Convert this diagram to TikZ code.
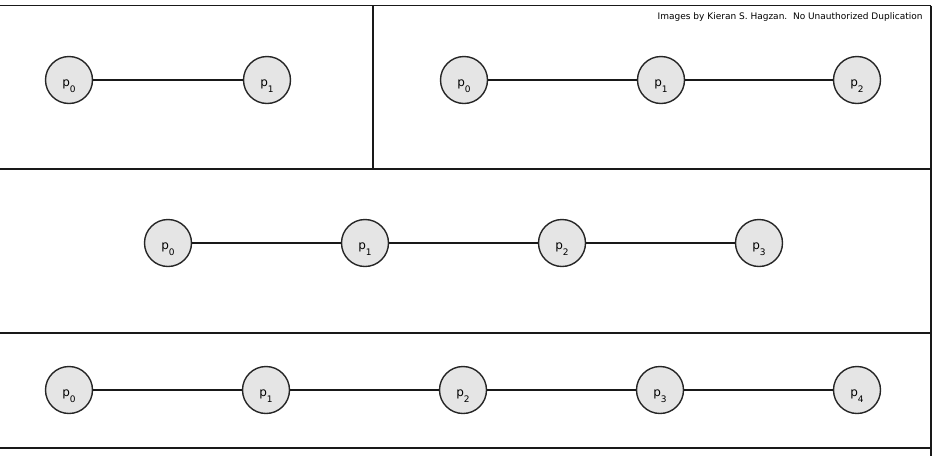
\documentclass[tikz,border=0pt]{standalone}
\usepackage{fontspec}
\setmainfont{DejaVu Sans}
\usetikzlibrary{positioning}
\tikzset{
  punkt/.style={circle, draw=black!85, line width=1.4pt, fill=black!10, inner sep=0pt, minimum size=47pt, font=\fontsize{12}{14}\selectfont},
  kant/.style={line width=1.3pt, black!90},
  rahmen/.style={line width=1.8pt, black!90},
}
\newcommand{\pkt}[1]{\raisebox{-6pt}[0pt][0pt]{p\raisebox{-6pt}{\fontsize{9}{9}\selectfont #1}}}
\begin{document}
\begin{tikzpicture}[x=1pt, y=-1pt]
  \useasboundingbox (0,0) rectangle (932,456);
  % Rahmen
  \draw[rahmen] (0,5.5) -- (931,5.5);
  \draw[rahmen] (931,5.5) -- (931,456);
  \draw[rahmen] (373,5.5) -- (373,169);
  \draw[rahmen] (0,169) -- (931,169);
  \draw[rahmen] (0,333) -- (931,333);
  \draw[rahmen] (0,448) -- (931,448);
  \node[anchor=east, font=\fontsize{9}{10}\selectfont] (hinweis) at (926,17) {Images by Kieran S. Hagzan.\ \ No Unauthorized Duplication};
  % Feld 1: zwei Punkte
  \node[punkt] (a0) at (69,80) {\pkt{0}};
  \node[punkt] (a1) at (267,80) {\pkt{1}};
  \draw[kant] (a0) -- (a1);
  % Feld 2: drei Punkte
  \node[punkt] (b0) at (464,80) {\pkt{0}};
  \node[punkt] (b1) at (661,80) {\pkt{1}};
  \node[punkt] (b2) at (857,80) {\pkt{2}};
  \draw[kant] (b0) -- (b1);
  \draw[kant] (b1) -- (b2);
  % Feld 3: vier Punkte
  \node[punkt] (c0) at (168,243) {\pkt{0}};
  \node[punkt] (c1) at (365,243) {\pkt{1}};
  \node[punkt] (c2) at (562,243) {\pkt{2}};
  \node[punkt] (c3) at (759,243) {\pkt{3}};
  \draw[kant] (c0) -- (c1);
  \draw[kant] (c1) -- (c2);
  \draw[kant] (c2) -- (c3);
  % Feld 4: fünf Punkte
  \node[punkt] (d0) at (69,390) {\pkt{0}};
  \node[punkt] (d1) at (266,390) {\pkt{1}};
  \node[punkt] (d2) at (463,390) {\pkt{2}};
  \node[punkt] (d3) at (660,390) {\pkt{3}};
  \node[punkt] (d4) at (857,390) {\pkt{4}};
  \draw[kant] (d0) -- (d1);
  \draw[kant] (d1) -- (d2);
  \draw[kant] (d2) -- (d3);
  \draw[kant] (d3) -- (d4);
\end{tikzpicture}
\end{document}
